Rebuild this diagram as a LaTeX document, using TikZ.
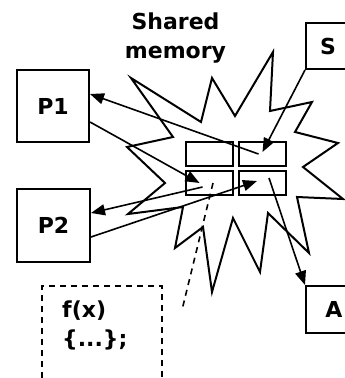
\documentclass[tikz,border=0pt]{standalone}
\usepackage{fontspec}
\setmainfont{DejaVu Sans}
\usetikzlibrary{arrows.meta,positioning,calc}
\tikzset{
  >={Triangle[length=14pt,width=11pt]},
  box/.style={draw,line width=2pt,inner sep=0pt,align=center,
    font=\fontsize{22}{29}\selectfont\bfseries},
  cell/.style={draw,fill=white,line width=2pt,minimum width=47pt,minimum height=24pt,inner sep=0pt},
  flow/.style={->,line width=1.6pt},
  link/.style={line width=1.6pt,dash pattern=on 6pt off 5pt},
  tag/.style={inner sep=0pt,align=left,font=\fontsize{22}{29}\selectfont\bfseries},
  % star outline of the shared area
  burst/.style={line width=2pt,line join=miter},
}
\begin{document}
\begin{tikzpicture}[x=1pt,y=-1pt]
    \useasboundingbox (0,0) rectangle (345,378);
    \node[tag,align=center,anchor=north] (shm) at (175.5,13) {Shared\\memory};
    \draw[burst] (131,78) -- (201,122) -- (212,78) -- (235,116) -- (273,52) -- (270,111)
      -- (312,102) -- (295,132) -- (338,143) -- (303,167) -- (343,199) -- (297,197)
      -- (309,253) -- (268,213) -- (260,272) -- (233,218) -- (212,292) -- (203,227)
      -- (175,248) -- (183,207) -- (128,214) -- (165,183) -- (127,147) -- (173,137) -- cycle;
    \node[box,minimum width=72pt,minimum height=72pt] (p1) at (53,106) {P1};
    \node[box,minimum width=73pt,minimum height=73pt] (p2) at (53.5,225.5) {P2};
    \node[box,minimum width=44pt,minimum height=46pt] (s) at (328,46) {S};
    \node[box,minimum width=56pt,minimum height=47pt] (a) at (334,309.5) {A};
    \node[cell] (c1) at (209.5,154) {};
    \node[cell] (c2) at (262.5,154) {};
    \node[cell] (c3) at (209.5,183) {};
    \node[cell] (c4) at (262.5,183) {};
    \draw[flow] ([xshift=-4pt]c2.center) -- ([yshift=12pt]p1.east);
    \draw[flow] ([yshift=-16pt]p1.east) -- ([xshift=-10pt]c3.center);
    \draw[flow] (s.south west) -- ([yshift=2pt]c2.center);
    \draw[flow] ([xshift=-7pt,yshift=-4pt]c3.center) -- ([yshift=12.5pt]p2.east);
    \draw[flow] ([yshift=-11.5pt]p2.east) -- ([xshift=-5.5pt,yshift=2pt]c4.center);
    \draw[flow] ([xshift=6.5pt,yshift=5pt]c4.center) -- (a.north west);
    % code of the function
    \draw[link] (42,400) |- (162,286) -- (162,400);
    \node[tag,anchor=north west] (fx) at (62,301) {f(x)\\\{...\};};
    \coordinate (tip) at (182,310);
    \draw[link] ([xshift=3.5pt]c3.center) -- (tip);
\end{tikzpicture}
\end{document}
